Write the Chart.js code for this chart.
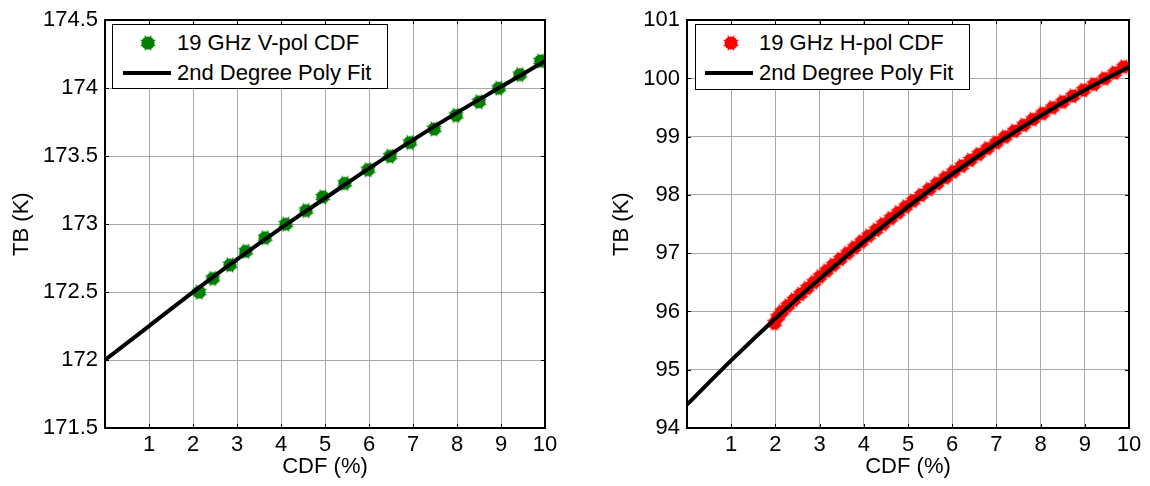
<!DOCTYPE html>
<html>
<head>
<meta charset="utf-8">
<script src="https://cdn.jsdelivr.net/npm/chart.js@4/dist/chart.umd.min.js"></script>
<style>
  body { margin: 0; background: #fff; width: 1150px; height: 486px; position: relative; overflow: hidden; font-family: "Liberation Sans", Arial, sans-serif; }
  canvas { position: absolute; top: 0; }
  .legend { position: absolute; background: #fff; border: 1px solid #000; font-size: 22px; color: #000; }
  .legend .row { position: absolute; left: 0; height: 26px; line-height: 26px; white-space: nowrap; }
  .legend .sym { position: absolute; }
  .legend .txt { position: absolute; }
</style>
</head>
<body>
<canvas id="left" width="570" height="486" style="left:0"></canvas>
<canvas id="right" width="550" height="486" style="left:600px"></canvas>

<div class="legend" id="legend-left" style="left:112px;top:24px;width:274px;height:63px;">
  <div class="row" style="top:5px;width:100%"><img class="sym" id="mk-left" style="left:26px;top:4px"><span class="txt" style="left:64px">19 GHz V-pol CDF</span></div>
  <div class="row" style="top:35px;width:100%"><span class="sym" style="left:10px;top:11px;width:48px;height:4px;background:#000"></span><span class="txt" style="left:64px">2nd Degree Poly Fit</span></div>
</div>
<div class="legend" id="legend-right" style="left:695px;top:24px;width:273px;height:64px;">
  <div class="row" style="top:5px;width:100%"><img class="sym" id="mk-right" style="left:26px;top:4px"><span class="txt" style="left:63px">19 GHz H-pol CDF</span></div>
  <div class="row" style="top:35px;width:100%"><span class="sym" style="left:9px;top:11px;width:48px;height:4px;background:#000"></span><span class="txt" style="left:63px">2nd Degree Poly Fit</span></div>
</div>

<script>
// left panel: 19 GHz V-pol
const vpolX = [2.14, 2.45, 2.84, 3.2, 3.64, 4.11, 4.57, 4.95, 5.45, 5.98, 6.48, 6.93, 7.48, 7.98, 8.5, 8.95, 9.43, 9.9];
const vpolTB = [172.5, 172.6, 172.7, 172.8, 172.9, 173.0, 173.1, 173.2, 173.3, 173.4, 173.5, 173.6, 173.7, 173.8, 173.9, 174.0, 174.1, 174.2];
const vfitX = [0, 1, 2, 3, 4, 5, 6, 7, 8, 9, 10];
const vfitTB = [172.0, 172.25, 172.5, 172.74, 172.97, 173.19, 173.41, 173.62, 173.82, 174.01, 174.2];
const vpolYTicks = [171.5, 172, 172.5, 173, 173.5, 174, 174.5];

// right panel: 19 GHz H-pol
const hpolX = [1.98, 2.05, 2.15, 2.28, 2.42, 2.57, 2.72, 2.87, 3.01, 3.16, 3.31, 3.47, 3.63, 3.79, 3.95,
  4.11, 4.28, 4.44, 4.61, 4.78, 4.95, 5.12, 5.3, 5.48, 5.66, 5.85, 6.03, 6.22, 6.41, 6.6,
  6.8, 7.0, 7.2, 7.41, 7.62, 7.83, 8.05, 8.27, 8.5, 8.73, 8.97, 9.21, 9.45, 9.68, 9.88];
const hpolTB = [95.8, 95.9, 96.0, 96.1, 96.2, 96.3, 96.4, 96.5, 96.6, 96.7, 96.8, 96.9, 97.0, 97.1, 97.2,
  97.3, 97.4, 97.5, 97.6, 97.7, 97.8, 97.9, 98.0, 98.1, 98.2, 98.3, 98.4, 98.5, 98.6, 98.7,
  98.8, 98.9, 99.0, 99.1, 99.2, 99.3, 99.4, 99.5, 99.6, 99.7, 99.8, 99.9, 100.0, 100.1, 100.2];
const hfitX = [0, 1, 2, 3, 4, 5, 6, 7, 8, 9, 10];
const hfitTB = [94.4, 95.16, 95.88, 96.56, 97.2, 97.8, 98.36, 98.88, 99.36, 99.8, 100.2];
const hpolYTicks = [94, 95, 96, 97, 98, 99, 100, 101];

const xTicks = [0, 1, 2, 3, 4, 5, 6, 7, 8, 9, 10];

const FONT = { family: '"Liberation Sans", Arial, sans-serif', size: 22 };

// filled blob with short asterisk spikes, like the matlab markers
function makeMarker(color) {
  const c = document.createElement("canvas");
  c.width = 18; c.height = 18;
  const g = c.getContext("2d");
  g.fillStyle = color;
  g.strokeStyle = color;
  g.lineWidth = 1.2;
  g.beginPath();
  g.arc(9, 9, 6.6, 0, Math.PI * 2);
  g.fill();
  for (let i = 0; i < 4; i++) {
    const a = i * Math.PI / 4 + Math.PI / 8;
    g.beginPath();
    g.moveTo(9 - Math.cos(a) * 8, 9 - Math.sin(a) * 8);
    g.lineTo(9 + Math.cos(a) * 8, 9 + Math.sin(a) * 8);
    g.stroke();
  }
  return c;
}

const boxPlugin = {
  id: "box",
  afterDraw(chart) {
    const { ctx, chartArea: a, scales } = chart;
    ctx.save();
    ctx.strokeStyle = "#000";
    ctx.lineWidth = 1;
    scales.x.ticks.forEach(t => {
      const px = Math.round(scales.x.getPixelForValue(t.value)) + 0.5;
      ctx.beginPath();
      ctx.moveTo(px, a.bottom); ctx.lineTo(px, a.bottom - 4);
      ctx.moveTo(px, a.top); ctx.lineTo(px, a.top + 4);
      ctx.stroke();
    });
    scales.y.ticks.forEach(t => {
      const py = Math.round(scales.y.getPixelForValue(t.value)) + 0.5;
      ctx.beginPath();
      ctx.moveTo(a.left, py); ctx.lineTo(a.left + 4, py);
      ctx.moveTo(a.right, py); ctx.lineTo(a.right - 4, py);
      ctx.stroke();
    });
    ctx.lineWidth = 2;
    ctx.strokeRect(Math.round(a.left), Math.round(a.top), Math.round(a.right - a.left), Math.round(a.bottom - a.top));
    ctx.restore();
  }
};

function makeChart(id, ptsX, ptsY, fitX, fitY, yTicks, color, yWidth, padRight, marker) {
  return new Chart(document.getElementById(id), {
    type: "scatter",
    data: {
      datasets: [
        {
          label: "2nd Degree Poly Fit",
          data: fitX.map((x, i) => ({ x: x, y: fitY[i] })),
          showLine: true,
          borderColor: "#000",
          borderWidth: 4,
          pointRadius: 0,
          cubicInterpolationMode: "monotone"
        },
        {
          label: "pts",
          data: ptsX.map((x, i) => ({ x: x, y: ptsY[i] })),
          pointStyle: marker,
          pointRadius: 6,
          backgroundColor: color,
          borderColor: color
        }
      ]
    },
    options: {
      responsive: false,
      animation: false,
      layout: { padding: { left: 0, right: padRight, top: 15, bottom: 0 } },
      plugins: { legend: { display: false }, tooltip: { enabled: false } },
      scales: {
        x: {
          type: "linear",
          min: 0, max: 10,
          afterBuildTicks: s => { s.ticks = xTicks.map(v => ({ value: v })); },
          afterFit: s => { s.height = 58; },
          grid: { color: "#a8a8a8", drawTicks: false },
          border: { display: false },
          ticks: { font: FONT, color: "#000", padding: 4, maxRotation: 0, callback: v => v === 0 ? "" : String(v) },
          title: { display: true, text: "CDF (%)", font: FONT, color: "#000", padding: { top: 0, bottom: 6 } }
        },
        y: {
          type: "linear",
          min: yTicks[0], max: yTicks[yTicks.length - 1],
          afterBuildTicks: s => { s.ticks = yTicks.map(v => ({ value: v })); },
          afterFit: s => { s.width = yWidth; },
          grid: { color: "#a8a8a8", drawTicks: false },
          border: { display: false },
          ticks: { font: FONT, color: "#000", padding: 7, callback: v => String(v) },
          title: { display: true, text: "TB (K)", font: FONT, color: "#000", padding: { top: 9, bottom: 0 } }
        }
      }
    },
    plugins: [boxPlugin]
  });
}

const greenMk = makeMarker("#008000");
const redMk = makeMarker("#ff0000");
document.getElementById("mk-left").src = greenMk.toDataURL();
document.getElementById("mk-right").src = redMk.toDataURL();

makeChart("left", vpolX, vpolTB, vfitX, vfitTB, vpolYTicks, "#008000", 105, 25, greenMk);
makeChart("right", hpolX, hpolTB, hfitX, hfitTB, hpolYTicks, "#ff0000", 87, 21, redMk);
</script>
</body>
</html>
